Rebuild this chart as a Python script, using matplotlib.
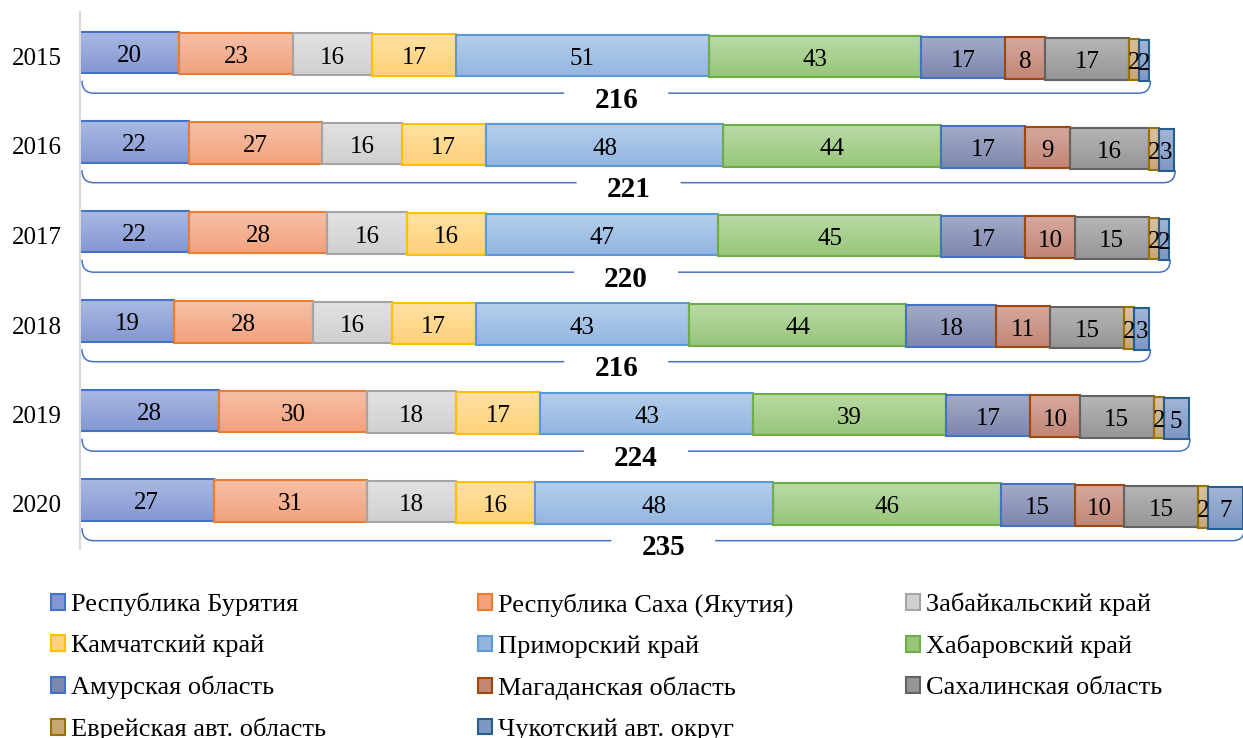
import numpy as np
import matplotlib
matplotlib.use('Agg')
import matplotlib.pyplot as plt
from matplotlib.colors import LinearSegmentedColormap
from matplotlib.patches import Patch, PathPatch
from matplotlib.path import Path

plt.rcParams['font.family'] = ['Liberation Serif', 'DejaVu Serif']

# data
years = ['2015', '2016', '2017', '2018', '2019', '2020']
regions = ['Республика Бурятия', 'Республика Саха (Якутия)', 'Забайкальский край',
           'Камчатский край', 'Приморский край', 'Хабаровский край',
           'Амурская область', 'Магаданская область', 'Сахалинская область',
           'Еврейская авт. область', 'Чукотский авт. округ']
buryatia = [20, 22, 22, 19, 28, 27]
sakha = [23, 27, 28, 28, 30, 31]
zabaikal = [16, 16, 16, 16, 18, 18]
kamchatka = [17, 17, 16, 17, 17, 16]
primorye = [51, 48, 47, 43, 43, 48]
khabarovsk = [43, 44, 45, 44, 39, 46]
amur = [17, 17, 17, 18, 17, 15]
magadan = [8, 9, 10, 11, 10, 10]
sakhalin = [17, 16, 15, 15, 15, 15]
jewish = [2, 2, 2, 2, 2, 2]
chukotka = [2, 3, 2, 3, 5, 7]

series = [buryatia, sakha, zabaikal, kamchatka, primorye, khabarovsk,
          amur, magadan, sakhalin, jewish, chukotka]

# (top, bottom) gradient colours and edge colours
tops = ['#AAB9E3', '#F7C0A6', '#E2E2E2', '#FFE1A3', '#B6CFEC', '#BADAA6',
        '#A5ABC7', '#D6A99E', '#B6B6B6', '#DAC29F', '#A3B6D8']
bottoms = ['#8497D2', '#F2A27E', '#D0D0D0', '#FFD179', '#93B6E0', '#97C679',
           '#7C87AE', '#C28676', '#969696', '#C8A776', '#7E97C3']
edges = ['#4472C4', '#ED7D31', '#A5A5A5', '#FFC000', '#5B9BD5', '#70AD47',
         '#4472C4', '#9E480E', '#636363', '#997300', '#255E91']

fig = plt.figure(figsize=(12.43, 7.38), dpi=100)
ax = fig.add_axes([80 / 1243, 1 - 548.75 / 738, 1163 / 1243, 537 / 738])

grad = np.linspace(0, 1, 64).reshape(-1, 1)
ypos = np.arange(len(years))
left = np.zeros(len(years))
for i, vals in enumerate(series):
    cmap = LinearSegmentedColormap.from_list('g%d' % i, [tops[i], bottoms[i]])
    y = ypos + (i - 5) * 0.009
    bars = ax.barh(y, vals, left=left, height=0.464, color='none',
                   edgecolor=edges[i], linewidth=1.5, zorder=2.5)
    for b, v in zip(bars, vals):
        x0, y0, w, h = b.get_x(), b.get_y(), b.get_width(), b.get_height()
        im = ax.imshow(grad, cmap=cmap, extent=(x0, x0 + w, y0 + h, y0),
                       origin='upper', aspect='auto', zorder=2,
                       interpolation='bilinear')
        im.set_clip_path(b)
        ax.annotate(str(v), (x0 + w / 2, y0 + h / 2), xytext=(0, -2.5),
                    textcoords='offset points', ha='center', va='center',
                    fontsize=18, zorder=4)
    left += np.array(vals)

totals = left

# braces with totals
for k, tot in enumerate(totals):
    yt = k + 0.27
    yl = k + 0.41
    xl, xr = 0.4, tot + 0.3
    rx = 2.4
    xm = (xl + xr) / 2
    gap = 10.5
    verts = [(xl, yt), (xl, yl), (xl + rx, yl), (xm - gap, yl),
             (xm + gap, yl), (xr - rx, yl), (xr, yl), (xr, yt)]
    codes = [Path.MOVETO, Path.CURVE3, Path.CURVE3, Path.LINETO,
             Path.MOVETO, Path.LINETO, Path.CURVE3, Path.CURVE3]
    ax.add_patch(PathPatch(Path(verts, codes), fill=False, ec='#4472C4',
                           lw=1.1, clip_on=False))
    ax.text(xm, k + 0.49, '%d' % tot, ha='center', va='center',
            fontsize=21, fontweight='bold')

ax.set_xlim(0, 235)
ax.set_ylim(5.5, -0.5)
ax.set_yticks(ypos, years)
ax.tick_params(axis='y', length=0, pad=13, labelsize=18)
ax.set_xticks([])
for s in ['top', 'right', 'bottom']:
    ax.spines[s].set_visible(False)
ax.spines['left'].set_color('#D9D9D9')
ax.spines['left'].set_linewidth(1.5)

# legend, three columns filled row by row
col_x = [51, 478, 906]
for c in range(3):
    idx = list(range(c, len(regions), 3))
    handles = [Patch(facecolor=bottoms[i], edgecolor=edges[i], linewidth=1.5)
               for i in idx]
    leg = fig.legend(handles, [regions[i] for i in idx], loc='upper left',
                     bbox_to_anchor=(col_x[c] / 1243, 1 - 593 / 738),
                     frameon=False, fontsize=19, handlelength=0.53,
                     handleheight=0.53, handletextpad=0.21, labelspacing=0.7,
                     borderpad=0, borderaxespad=0)

fig.savefig('out.png', dpi=100)
